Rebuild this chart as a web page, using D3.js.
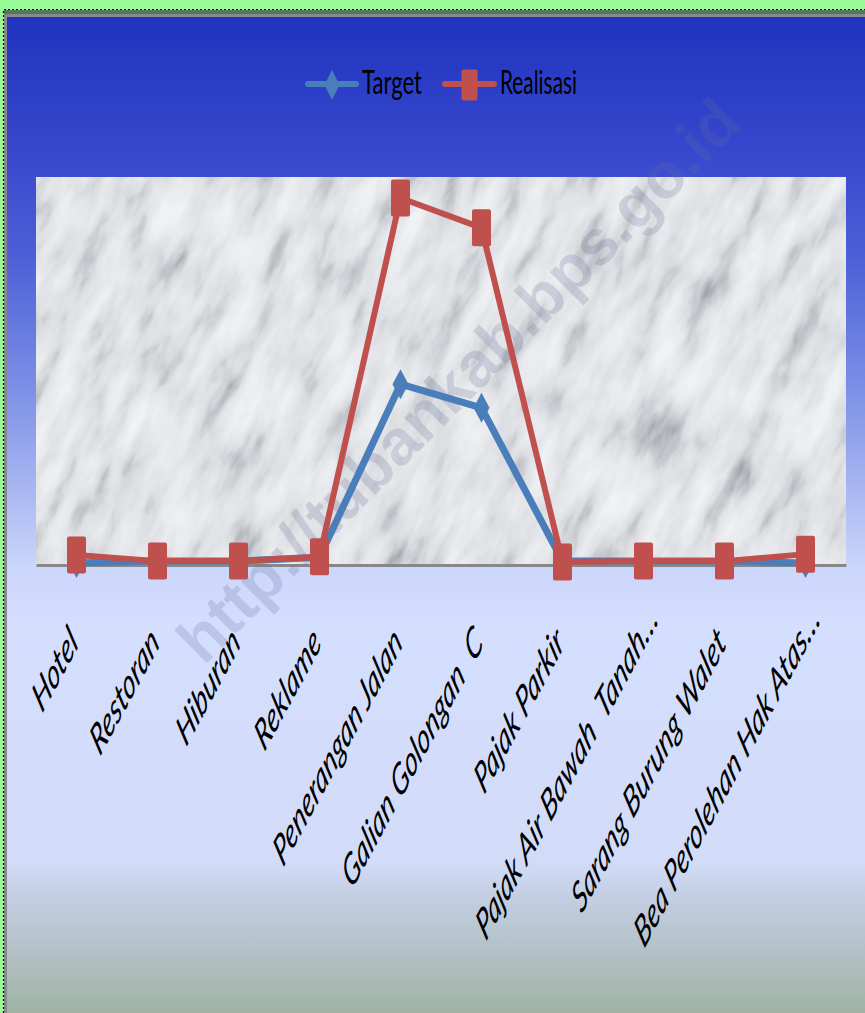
<!DOCTYPE html>
<html>
<head>
<meta charset="utf-8">
<script src="https://cdn.jsdelivr.net/npm/d3@7"></script>
<style>
  html, body { margin: 0; padding: 0; background: #98FB98; overflow: hidden; }
  svg { display: block; }
  text { white-space: pre; }
</style>
</head>
<body>
<svg id="chart" width="865" height="1013"></svg>
<script>
// ---- data ----
const categories = ["Hotel", "Restoran", "Hiburan", "Reklame", "Penerangan Jalan",
  "Galian Golongan  C", "Pajak Parkir", "Pajak Air Bawah  Tanah…",
  "Sarang Burung Walet", "Bea Perolehan Hak Atas…"];
const seriesNames = ["Target", "Realisasi"];
const targetValues = [0.05, 0.10, 0.10, 0.20, 4.66, 4.05, 0.10, 0.10, 0.10, 0.05];
const realisasiValues = [0.26, 0.10, 0.10, 0.21, 9.46, 8.69, 0.08, 0.10, 0.10, 0.28];
const yDomain = [0, 10];
const watermark = "http://tubankab.bps.go.id";

// ---- layout ----
const W = 865, H = 1013;
const plot = { left: 36, right: 846, top: 177, bottom: 565 };
const stretch = 1.85;
const colors = { Target: "#4A7EBB", Realisasi: "#C0504D" };

const svg = d3.select("#chart");
const defs = svg.append("defs");

// background gradient
const bg = defs.append("linearGradient").attr("id", "bgGrad")
  .attr("x1", 0).attr("y1", 0).attr("x2", 0).attr("y2", 1);
[[0, "#1F33BF"], [0.13, "#3747CD"], [0.24, "#4D60D7"], [0.385, "#8396E8"],
 [0.545, "#CBD6FB"], [0.6, "#D4DEFE"], [0.835, "#D2DCF8"], [0.87, "#C3CEE3"],
 [1, "#9AAF9C"]].forEach(([o, c]) => bg.append("stop").attr("offset", o).attr("stop-color", c));

// marble filter
const f = defs.append("filter").attr("id", "marble")
  .attr("x", 0).attr("y", 0).attr("width", 1).attr("height", 1)
  .attr("color-interpolation-filters", "sRGB");
f.append("feTurbulence").attr("type", "fractalNoise")
  .attr("baseFrequency", "0.04 0.014").attr("numOctaves", 4).attr("seed", 7).attr("result", "n");
f.append("feColorMatrix").attr("in", "n").attr("type", "saturate").attr("values", 0).attr("result", "g");
const ct = f.append("feComponentTransfer").attr("in", "g");
ct.append("feFuncR").attr("type", "table").attr("tableValues", "0.40 0.55 0.74 0.86 0.91 0.94 0.955 0.965");
ct.append("feFuncG").attr("type", "table").attr("tableValues", "0.41 0.56 0.75 0.87 0.915 0.945 0.96 0.97");
ct.append("feFuncB").attr("type", "table").attr("tableValues", "0.43 0.58 0.77 0.885 0.93 0.955 0.97 0.98");
ct.append("feFuncA").attr("type", "linear").attr("slope", 0).attr("intercept", 1);

defs.append("clipPath").attr("id", "plotClip").append("rect")
  .attr("x", plot.left).attr("y", plot.top)
  .attr("width", plot.right - plot.left).attr("height", plot.bottom - plot.top);

// frame
svg.append("rect").attr("x", 4).attr("y", 10).attr("width", W).attr("height", H)
  .attr("fill", "#4E7B55");
svg.append("rect").attr("x", 5.5).attr("y", 15.5).attr("width", W).attr("height", H)
  .attr("fill", "url(#bgGrad)").attr("stroke", "#8A8A8A").attr("stroke-width", 3);
svg.append("path").attr("d", `M3.5,${H} V9.5 H${W}`).attr("fill", "none")
  .attr("stroke", "#000").attr("stroke-width", 1.2).attr("stroke-dasharray", "2,2");

// plot area marble
const pg = svg.append("g").attr("clip-path", "url(#plotClip)");
pg.append("rect").attr("x", plot.left).attr("y", plot.top)
  .attr("width", plot.right - plot.left).attr("height", plot.bottom - plot.top).attr("fill", "#ECEDF0");
pg.append("rect")
  .attr("x", -700).attr("y", -700).attr("width", 1400).attr("height", 1400)
  .attr("transform", `translate(${(plot.left + plot.right) / 2},${(plot.top + plot.bottom) / 2}) rotate(25)`)
  .attr("filter", "url(#marble)");

// scales
const x = d3.scaleBand().domain(categories).range([plot.left, plot.right]);
const y = d3.scaleLinear().domain(yDomain).range([plot.bottom, plot.top]);
const cx = d => x(d) + x.bandwidth() / 2;

// axis
const axis = svg.append("g").attr("transform", `translate(0,${plot.bottom})`)
  .call(d3.axisBottom(x).tickSize(0).tickSizeOuter(0));
axis.select(".domain").attr("stroke", "#888").attr("stroke-width", 3);
axis.selectAll(".tick text")
  .attr("x", d => d.endsWith("…") ? 18 : 0)
  .attr("y", 0).attr("dy", 0)
  .attr("text-anchor", "end")
  .attr("font-family", "Lato, 'Open Sans', sans-serif")
  .attr("font-style", "italic")
  .attr("font-size", 23.5)
  .attr("fill", "#000")
  .attr("transform", `translate(3,80) scale(1,${stretch}) rotate(-45)`);

// watermark
svg.append("text").text(watermark)
  .attr("transform", "translate(462,384) rotate(-45)")
  .attr("text-anchor", "middle").attr("dominant-baseline", "middle")
  .attr("font-family", "'Liberation Sans', Arial, sans-serif").attr("font-weight", "bold")
  .attr("font-size", 64).attr("fill", "rgba(100,110,150,0.22)");

// series
const series = [
  { name: "Target", values: targetValues },
  { name: "Realisasi", values: realisasiValues }
];
const line = d3.line().x((d, i) => cx(categories[i])).y(d => y(d));

function marker(sel, name, w, h) {
  if (name === "Target") {
    sel.append("path").attr("d", `M0,${-h / 2} L${w / 2},0 L0,${h / 2} L${-w / 2},0 Z`)
      .attr("fill", colors[name]);
  } else {
    sel.append("rect").attr("x", -w / 2).attr("y", -h / 2).attr("width", w).attr("height", h)
      .attr("rx", 2).attr("fill", colors[name]);
  }
}

series.forEach(s => {
  svg.append("path").datum(s.values).attr("d", line)
    .attr("fill", "none").attr("stroke", colors[s.name])
    .attr("stroke-width", s.name === "Target" ? 7 : 6).attr("stroke-linejoin", "round");
  svg.selectAll(null).data(s.values).enter().append("g")
    .attr("transform", (d, i) => `translate(${cx(categories[i])},${y(d)})`)
    .each(function () {
      if (s.name === "Target") marker(d3.select(this), s.name, 16, 30);
      else marker(d3.select(this), s.name, 19, 37);
    });
});

// legend
const legendItems = [
  { name: "Target", x0: 308, x1: 356, tx: 362, tw: 60 },
  { name: "Realisasi", x0: 445, x1: 494, tx: 500, tw: 77 }
];
const lg = svg.append("g");
legendItems.forEach(it => {
  const g = lg.append("g");
  g.append("line").attr("x1", it.x0).attr("x2", it.x1).attr("y1", 84).attr("y2", 84)
    .attr("stroke", colors[it.name]).attr("stroke-width", 6).attr("stroke-linecap", "round");
  const m = g.append("g").attr("transform", `translate(${(it.x0 + it.x1) / 2},85)`);
  if (it.name === "Target") marker(m, it.name, 15, 30); else marker(m, it.name, 16, 31);
  g.append("text").text(it.name).attr("x", it.tx).attr("y", 94)
    .attr("font-family", "Lato, 'Open Sans', sans-serif").attr("font-size", 33)
    .attr("textLength", it.tw).attr("lengthAdjust", "spacingAndGlyphs")
    .attr("fill", "#000");
});
</script>
</body>
</html>
